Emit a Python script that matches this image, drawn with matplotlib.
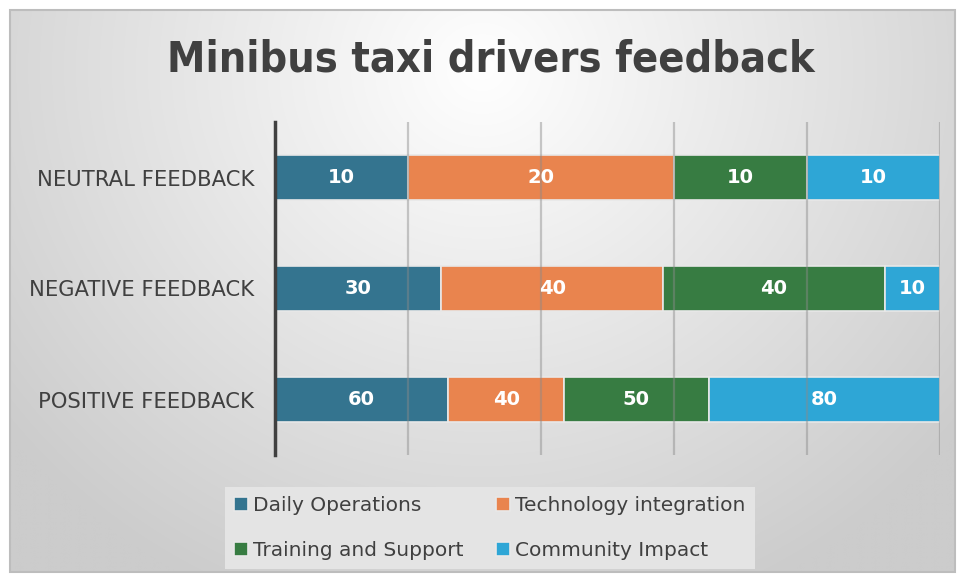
import numpy as np
import matplotlib.pyplot as plt
from matplotlib.patches import Rectangle

# ---------------------------------------------------------
# Data
# ---------------------------------------------------------
categories = ["POSITIVE FEEDBACK", "NEGATIVE FEEDBACK", "NEUTRAL FEEDBACK"]
series = ["Daily Operations", "Technology integration",
          "Training and Support", "Community Impact"]
daily_ops = [60, 30, 10]
tech_integration = [40, 40, 20]
training_support = [50, 40, 10]
community_impact = [80, 10, 10]
colors = ["#34748f", "#e9844e", "#377c42", "#2ea6d6"]

values = np.array([daily_ops, tech_integration, training_support, community_impact], dtype=float)
shares = values / values.sum(axis=0)

# ---------------------------------------------------------
# Figure + gradient background
# ---------------------------------------------------------
W, H = 961, 582
fig = plt.figure(figsize=(W / 100, H / 100), dpi=100)
fig.patch.set_facecolor("white")

bg = fig.add_axes([0, 0, 1, 1], zorder=-10)
bg.set_xlim(0, W)
bg.set_ylim(H, 0)
bg.axis("off")
yy, xx = np.mgrid[0:H, 0:W]
r = np.sqrt(((xx - 480) / 620.0) ** 2 + ((yy - 60) / 600.0) ** 2)
shade = 1.0 - 0.2 * np.clip(r, 0, 1.0)
img = np.dstack([shade, shade, shade])
bg.imshow(img, extent=(10, 955, 572, 10), aspect="auto", interpolation="bilinear")
bg.add_patch(Rectangle((10, 10), 945, 562, fill=False, edgecolor="#bdbdbd", lw=1.5))
bg.text(491, 60, "Minibus taxi drivers feedback", ha="center", va="center",
        fontsize=31, fontweight="bold", fontstretch="condensed",
        family="DejaVu Sans", color="#404040")

# ---------------------------------------------------------
# Bars
# ---------------------------------------------------------
ax = fig.add_axes([275 / W, 1 - 455 / H, 665 / W, 333 / H])
ax.set_facecolor("none")
y = np.arange(len(categories))
left = np.zeros(len(categories))
handles = []
for i, name in enumerate(series):
    bars = ax.barh(y, shares[i], left=left, height=0.405, color=colors[i],
                   edgecolor="#e8e8e8", linewidth=1.2, label=name, zorder=2)
    handles.append(bars)
    for j in range(len(categories)):
        ax.text(left[j] + shares[i][j] / 2, y[j], f"{int(values[i][j])}",
                ha="center", va="center", color="white", fontsize=14,
                fontweight="bold", zorder=4)
    left += shares[i]

ax.set_xlim(0, 1)
ax.set_ylim(-0.5, 2.5)
for gx in np.linspace(0.2, 1.0, 5):
    ax.axvline(gx, color="#8a8a8a", lw=1.6, alpha=0.45, zorder=3)

ax.set_xticks([])
ax.set_yticks(y)
ax.set_yticklabels(categories, fontsize=15.2, color="#404040")
ax.tick_params(axis="y", length=0, pad=15)
for s in ["top", "right", "bottom"]:
    ax.spines[s].set_visible(False)
ax.spines["left"].set_color("#404040")
ax.spines["left"].set_linewidth(2.5)

# ---------------------------------------------------------
# Legend
# ---------------------------------------------------------
order = [0, 2, 1, 3]
leg = fig.legend([handles[k] for k in order], [series[k] for k in order],
                 ncol=2, loc="center", bbox_to_anchor=(490 / W, 1 - 528 / H),
                 frameon=True, fontsize=14.5, handlelength=0.7, handleheight=0.7,
                 handletextpad=0.25, columnspacing=1.6, labelspacing=1.3,
                 borderpad=0.45, borderaxespad=0, fancybox=False)
leg.get_frame().set_facecolor("#e4e4e4")
leg.get_frame().set_edgecolor("none")
leg.get_frame().set_alpha(1)
for t in leg.get_texts():
    t.set_color("#404040")

fig.savefig("out.png", dpi=100)
